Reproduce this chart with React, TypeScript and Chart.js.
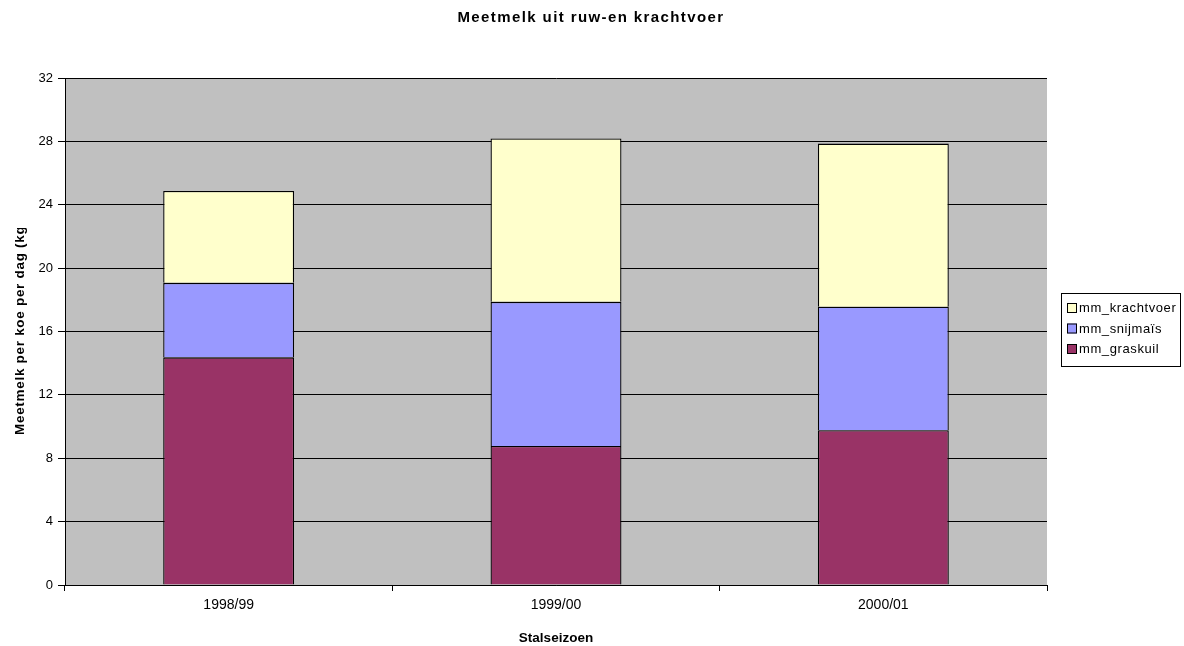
import React, { useEffect, useRef } from "react";
import { Chart, registerables } from "chart.js";

Chart.register(...registerables);

const categories = ["1998/99", "1999/00", "2000/01"];
const graskuil = [14.37, 8.78, 9.77];
const snijmais = [4.7, 9.09, 7.8];
const krachtvoer = [5.8, 10.31, 10.29];
const seriesNames = ["mm_graskuil", "mm_snijmaïs", "mm_krachtvoer"];
const seriesColors = ["#993366", "#9999FF", "#FFFFCC"];
const chartTitle = "Meetmelk uit ruw-en krachtvoer";
const yTitle = "Meetmelk per koe per dag (kg)";
const xTitle = "Stalseizoen";

const FONT = "'Liberation Sans', Arial, Helvetica, sans-serif";

const decorPlugin = {
  id: "decor",
  beforeDraw(chart: any) {
    const { ctx, chartArea } = chart;
    ctx.save();
    ctx.fillStyle = "#C0C0C0";
    ctx.fillRect(chartArea.left, chartArea.top, chartArea.right - chartArea.left, chartArea.bottom - chartArea.top);
    ctx.restore();
  },
  afterDraw(chart: any) {
    const { ctx, chartArea } = chart;
    // main title
    ctx.save();
    ctx.fillStyle = "#000";
    ctx.font = `bold 15px ${FONT}`;
    (ctx as any).letterSpacing = "1.4px";
    ctx.textAlign = "center";
    ctx.textBaseline = "alphabetic";
    ctx.fillText(chartTitle, 591, 22);
    ctx.restore();

    // x axis title
    ctx.save();
    ctx.fillStyle = "#000";
    ctx.font = `bold 13.5px ${FONT}`;
    ctx.textAlign = "center";
    ctx.textBaseline = "alphabetic";
    ctx.fillText(xTitle, (chartArea.left + chartArea.right) / 2, 642);
    ctx.restore();

    // y axis title (clipped at top like the reference)
    ctx.save();
    ctx.beginPath();
    ctx.rect(0, 228, 45, 400);
    ctx.clip();
    ctx.fillStyle = "#000";
    ctx.font = `bold 13.5px ${FONT}`;
    (ctx as any).letterSpacing = "0.7px";
    ctx.translate(24, 435);
    ctx.rotate(-Math.PI / 2);
    ctx.textAlign = "left";
    ctx.textBaseline = "alphabetic";
    ctx.fillText(yTitle, 0, 0);
    ctx.restore();

    // legend
    ctx.save();
    ctx.strokeStyle = "#000";
    ctx.lineWidth = 1;
    ctx.strokeRect(1061.5, 293.5, 119, 73);
    const ys = [308, 328.5, 349];
    const order = [2, 1, 0];
    ctx.font = `13px ${FONT}`;
    (ctx as any).letterSpacing = "0.6px";
    ctx.textAlign = "left";
    ctx.textBaseline = "middle";
    order.forEach((idx, i) => {
      const y = ys[i];
      ctx.fillStyle = seriesColors[idx];
      ctx.fillRect(1067, y - 5, 10, 10);
      ctx.strokeStyle = "#000";
      ctx.strokeRect(1067.5, y - 4.5, 9, 9);
      ctx.fillStyle = "#000";
      ctx.fillText(seriesNames[idx], 1079, y + 0.5);
    });
    ctx.restore();
  },
};

export default function App() {
  const ref = useRef<HTMLCanvasElement | null>(null);
  useEffect(() => {
    if (!ref.current) return;
    const values = [graskuil, snijmais, krachtvoer];
    const chart = new Chart(ref.current, {
      type: "bar",
      data: {
        labels: categories,
        datasets: values.map((v, i) => ({
          label: seriesNames[i],
          data: v,
          backgroundColor: seriesColors[i],
          borderColor: "#000",
          borderWidth: 1.3,
          borderSkipped: "start",
          categoryPercentage: 1,
          barPercentage: 0.4,
        })),
      },
      options: {
        animation: false,
        responsive: true,
        maintainAspectRatio: false,
        layout: { padding: { top: 78, right: 137, left: 0, bottom: 0 } },
        plugins: { legend: { display: false }, title: { display: false }, tooltip: { enabled: false } },
        scales: {
          x: {
            stacked: true,
            afterFit(scale: any) {
              scale.height = 61;
            },
            grid: { offset: true, drawOnChartArea: false, drawTicks: true, tickLength: 6, color: "#000" },
            border: { display: true, color: "#000" },
            ticks: { color: "#000", font: { family: FONT, size: 14 }, padding: 6 },
          },
          y: {
            stacked: true,
            min: 0,
            max: 32,
            afterFit(scale: any) {
              scale.width = 65;
            },
            grid: { color: "#000", drawTicks: true, tickLength: 7 },
            border: { display: true, color: "#000" },
            ticks: { stepSize: 4, color: "#000", font: { family: FONT, size: 13 }, padding: 5 },
          },
        },
      },
      plugins: [decorPlugin],
    });
    return () => chart.destroy();
  }, []);
  return (
    <div style={{ position: "absolute", left: 0, top: 0, width: 1184, height: 646, background: "#fff" }}>
      <canvas ref={ref} />
    </div>
  );
}
